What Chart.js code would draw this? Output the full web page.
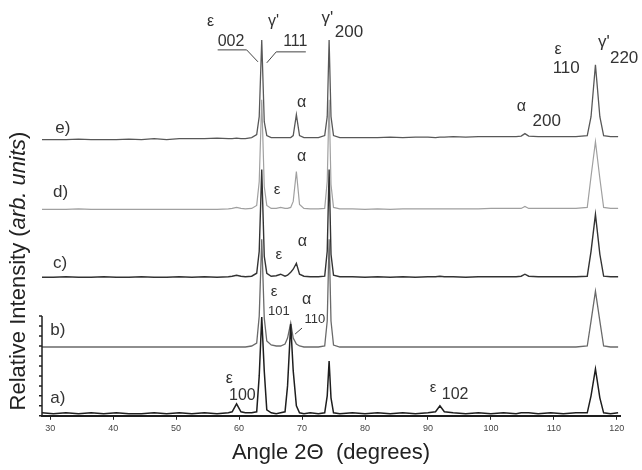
<!DOCTYPE html>
<html>
<head>
<meta charset="utf-8">
<script src="https://cdn.jsdelivr.net/npm/chart.js@4"></script>
<style>
  body { margin: 0; background: #fff; }
</style>
</head>
<body>
<canvas id="xrd" width="642" height="470"></canvas>
<script>
// diffraction angle 2θ (degrees), shared by all five patterns
const angles = [28.7, 30.5, 32.5, 34.5, 36.5, 38.5, 40.5, 42.5, 44.5, 46.5,
  48.5, 50.5, 52.5, 54.5, 56.5, 58.3, 58.9, 59.6, 60.3, 61.0,
  62.0, 62.8, 63.2, 63.6, 64.0, 64.4, 65.1, 65.9, 66.6, 67.3,
  67.7, 68.2, 68.6, 69.1, 69.6, 70.3, 71.3, 72.6, 73.6, 74.0,
  74.3, 74.6, 75.0, 76.0, 78.0, 80.0, 82.0, 84.0, 86.0, 88.0,
  90.0, 91.2, 91.9, 92.6, 94.0, 96.0, 98.0, 100.0, 102.0, 104.0,
  104.8, 105.4, 106.0, 107.5, 109.5, 111.5, 113.5, 115.3, 115.9, 116.6,
  117.3, 117.9, 119.0, 120.2];

// intensities (arb. units, offsets included)
const patternA = [3, 2, 3, 2, 3, 2, 3, 2, 2, 3,
  2, 3, 2, 3, 2, 3, 4, 12, 4, 3,
  3, 4, 40, 99, 45, 6, 3, 2, 3, 4,
  30, 92, 45, 10, 3, 2, 3, 2, 3, 20,
  55, 18, 3, 2, 3, 2, 3, 2, 3, 2,
  3, 4, 10, 4, 3, 2, 3, 2, 3, 2,
  3, 3, 3, 2, 3, 2, 3, 3, 20, 47,
  18, 3, 2, 3];
const patternB = [69, 69, 69, 69, 69, 69, 69, 69, 69, 69,
  69, 69, 69, 69, 69, 69, 69, 69, 69, 69,
  70, 73, 100, 177, 98, 75, 71, 70, 70, 72,
  78, 93, 78, 72, 70, 69, 69, 69, 70, 95,
  177, 95, 71, 69, 69, 69, 69, 69, 69, 69,
  69, 69, 69, 69, 69, 69, 69, 69, 69, 69,
  69, 69, 69, 69, 69, 69, 69, 70, 95, 125,
  95, 70, 69, 69];
const patternC = [139, 139, 139.5, 139, 139, 139.5, 139, 139, 139.5, 139,
  139, 139.5, 139, 139.5, 139, 139.5, 140, 141, 140, 139.5,
  140, 143, 165, 247, 160, 143, 140, 140.5, 142, 140,
  141, 144, 147, 153, 142, 140, 139.5, 139.5, 140, 165,
  247, 162, 141, 139.5, 139.5, 139, 139.5, 139, 139.5, 139,
  139.5, 139.5, 140, 139.5, 139.5, 139, 139.5, 139.5, 139.5, 139.5,
  140, 142, 140, 139.5, 139.5, 139.5, 139.5, 140, 165, 202,
  162, 140, 139.5, 139.5];
const patternD = [207, 207, 207, 207.5, 207, 207, 207, 207, 207, 207,
  207, 207, 207, 207, 207, 207.5, 208, 209, 208, 207.5,
  208, 211, 235, 317, 230, 211, 208, 208, 209, 208,
  208, 209, 215, 245, 212, 208, 207.5, 207.5, 208, 235,
  317, 232, 209, 207.5, 207.5, 207, 207.5, 207, 207.5, 207.5,
  207.5, 207.5, 207.5, 207.5, 207.5, 207.5, 207.5, 208, 208, 208,
  208, 210, 208, 208, 208, 208, 208, 209, 240, 275,
  238, 209, 208, 208];
const patternE = [277, 277, 277, 277.5, 277, 277, 277, 277.5, 277, 278,
  277, 278, 278, 278, 278.5, 278, 278, 278.5, 278, 278,
  279, 282, 300, 377, 295, 281, 279, 279, 279, 279,
  279, 279, 281, 302, 281, 279, 279, 279, 281, 300,
  377, 300, 281, 279, 279, 279, 279, 279.5, 279, 279.5,
  279.5, 279, 279.5, 279.5, 280, 279.5, 280, 280, 280, 280,
  280.5, 283, 280.5, 280, 280, 280, 280, 281, 300, 352,
  300, 281, 280, 280];

const xTicks = [30, 40, 50, 60, 70, 80, 90, 100, 110, 120];
const yTicks = [0, 10, 20, 30, 40, 50, 60, 70, 80, 90, 100];

// reflection labels and pattern names, placed in data coordinates
const labels = [
  { t: 'ε', x: 54.9, y: 395, s: 16 }, { t: '002', x: 56.6, y: 375, s: 16 },
  { t: "γ'", x: 64.6, y: 395, s: 16 }, { t: '111', x: 67.0, y: 375, s: 16 },
  { t: "γ'", x: 73.1, y: 399, s: 17 }, { t: '200', x: 75.2, y: 385, s: 17 },
  { t: 'ε', x: 110.1, y: 367, s: 16 }, { t: '110', x: 109.8, y: 349, s: 17 },
  { t: "γ'", x: 117.0, y: 375, s: 17 }, { t: '220', x: 118.9, y: 359, s: 17 },
  { t: 'α', x: 104.1, y: 310, s: 16 }, { t: '200', x: 106.6, y: 295, s: 17 },
  { t: 'α', x: 69.2, y: 314, s: 16 },
  { t: 'α', x: 69.2, y: 260, s: 16 }, { t: 'ε', x: 65.5, y: 227, s: 15 },
  { t: 'α', x: 69.3, y: 175, s: 16 }, { t: 'ε', x: 65.8, y: 161, s: 15 },
  { t: 'ε', x: 65.05, y: 124, s: 15 }, { t: '101', x: 64.6, y: 105, s: 13 },
  { t: 'α', x: 70.0, y: 117, s: 16 }, { t: '110', x: 70.4, y: 97, s: 13 },
  { t: 'ε', x: 57.9, y: 37, s: 16 }, { t: '100', x: 58.4, y: 20, s: 16 },
  { t: 'ε', x: 90.3, y: 28, s: 15 }, { t: '102', x: 92.2, y: 21, s: 16 },
  { t: 'e)', x: 30.8, y: 288, s: 17 }, { t: 'd)', x: 30.45, y: 224, s: 17 },
  { t: 'c)', x: 30.45, y: 153, s: 17 }, { t: 'b)', x: 30.0, y: 86, s: 17 },
  { t: 'a)', x: 30.0, y: 18, s: 17 }
];
const leaders = [
  [[56.6, 367], [61.2, 367], [63.0, 355]],
  [[70.6, 365], [65.9, 365], [64.4, 354]],
  [[70.0, 88], [68.9, 82]]
];

const FONT = "'Liberation Sans', Arial, sans-serif";

const annotate = {
  id: 'annotate',
  afterDraw(chart) {
    const { ctx, scales: { x, y } } = chart;
    ctx.save();
    // short left axis with ticks, only over the bottom pattern
    const left = x.getPixelForValue(x.min);
    ctx.strokeStyle = '#222';
    ctx.lineWidth = 1.5;
    ctx.beginPath();
    ctx.moveTo(left, y.getPixelForValue(yTicks[0]));
    ctx.lineTo(left, y.getPixelForValue(yTicks[yTicks.length - 1]));
    yTicks.forEach(v => {
      const py = y.getPixelForValue(v);
      ctx.moveTo(left, py);
      ctx.lineTo(left - 3, py);
    });
    ctx.stroke();

    ctx.lineWidth = 1;
    ctx.strokeStyle = '#444';
    leaders.forEach(pts => {
      ctx.beginPath();
      pts.forEach(([a, b], i) => {
        const px = x.getPixelForValue(a), py = y.getPixelForValue(b);
        i ? ctx.lineTo(px, py) : ctx.moveTo(px, py);
      });
      ctx.stroke();
    });

    ctx.fillStyle = '#333';
    ctx.textBaseline = 'middle';
    ctx.textAlign = 'left';
    labels.forEach(l => {
      ctx.font = l.s + 'px ' + FONT;
      ctx.fillText(l.t, x.getPixelForValue(l.x), y.getPixelForValue(l.y));
    });

    // y title with italic units
    ctx.translate(19, 271);
    ctx.rotate(-Math.PI / 2);
    const partA = 'Relative Intensity (', partB = 'arb. units', partC = ')';
    ctx.font = '22px ' + FONT;
    const wA = ctx.measureText(partA).width, wC = ctx.measureText(partC).width;
    ctx.font = 'italic 22px ' + FONT;
    const wB = ctx.measureText(partB).width;
    let pos = -(wA + wB + wC) / 2;
    ctx.fillStyle = '#222';
    ctx.font = '22px ' + FONT;
    ctx.fillText(partA, pos, 0);
    ctx.font = 'italic 22px ' + FONT;
    ctx.fillText(partB, pos + wA, 0);
    ctx.font = '22px ' + FONT;
    ctx.fillText(partC, pos + wA + wB, 0);
    ctx.restore();
  }
};

const series = [
  { label: 'a)', data: patternA, color: '#1e1e1e', width: 1.5 },
  { label: 'b)', data: patternB, color: '#6a6a6a', width: 1.3 },
  { label: 'c)', data: patternC, color: '#333333', width: 1.4 },
  { label: 'd)', data: patternD, color: '#a0a0a0', width: 1.2 },
  { label: 'e)', data: patternE, color: '#585858', width: 1.3 }
];

new Chart(document.getElementById('xrd'), {
  type: 'line',
  data: {
    labels: angles,
    datasets: series.map(s => ({
      label: s.label,
      data: s.data.map((v, i) => ({ x: angles[i], y: v })),
      borderColor: s.color,
      borderWidth: s.width,
      pointRadius: 0,
      tension: 0,
      fill: false
    }))
  },
  options: {
    responsive: false,
    animation: false,
    layout: { padding: { left: 42, right: 22, top: 8, bottom: 0 } },
    plugins: { legend: { display: false }, tooltip: { enabled: false } },
    scales: {
      x: {
        type: 'linear',
        min: 28.7,
        max: 120.5,
        afterBuildTicks: axis => { axis.ticks = xTicks.map(v => ({ value: v })); },
        grid: { drawOnChartArea: false, tickLength: 4, color: '#222' },
        border: { display: true, width: 2, color: '#1e1e1e' },
        ticks: { font: { size: 9, family: FONT }, color: '#444', padding: 3, maxRotation: 0 },
        title: {
          display: true,
          text: 'Angle 2Θ  (degrees)',
          font: { size: 22, family: FONT },
          color: '#222',
          padding: { top: 3, bottom: 4 }
        }
      },
      y: { display: false, min: 0, max: 409 }
    }
  },
  plugins: [annotate]
});
</script>
</body>
</html>
